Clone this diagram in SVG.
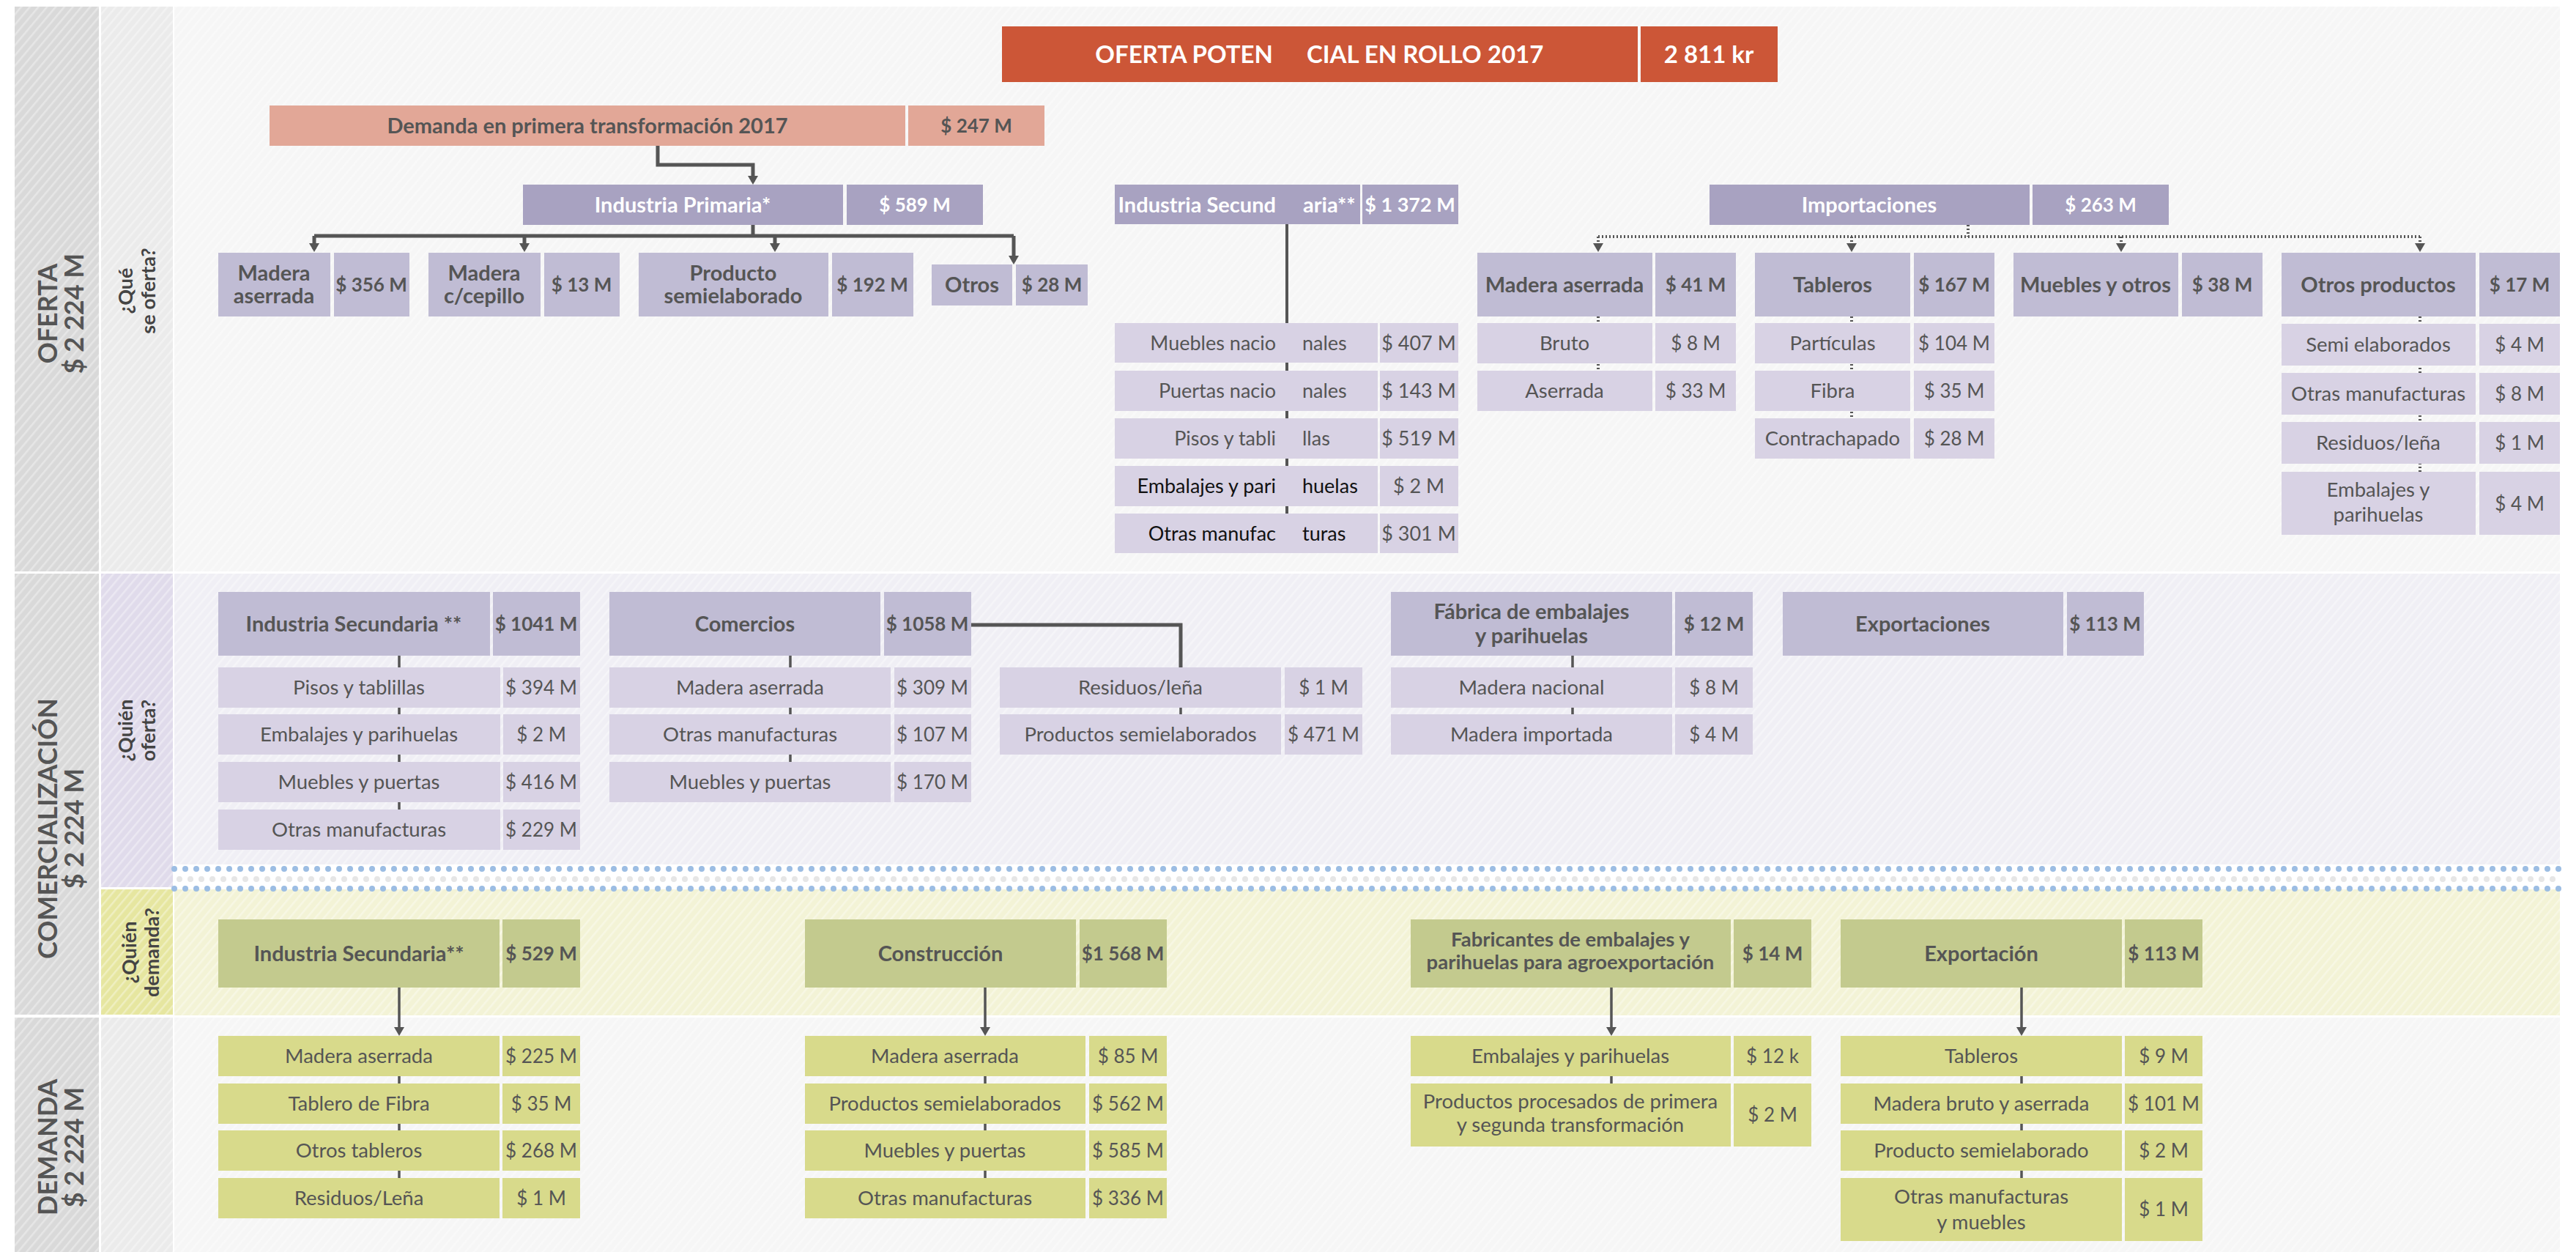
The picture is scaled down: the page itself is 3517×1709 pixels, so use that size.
<svg xmlns="http://www.w3.org/2000/svg" width="3517" height="1709" viewBox="0 0 3517 1709">
<defs>
<pattern id="hatch" width="9" height="9" patternUnits="userSpaceOnUse" patternTransform="rotate(40)"><rect width="2.5" height="9" fill="#fff" opacity="0.35"/></pattern>
<marker id="ah" markerUnits="userSpaceOnUse" markerWidth="16" markerHeight="16" viewBox="0 0 16 16" refX="8" refY="8" orient="auto"><path d="M0,1 L12,8 L0,15 z" fill="#555"/></marker>
</defs>
<style>
text { font-family: Lato, "Noto Sans", "Liberation Sans", sans-serif; }
.tw { fill:#fff; font-weight:700; font-size:29px; text-anchor:middle; }
.tb { fill:#555; font-weight:700; font-size:29px; text-anchor:middle; }
.tr { fill:#555; font-weight:400; font-size:27.5px; text-anchor:middle; }
.vw { fill:#fff; font-weight:700; font-size:26px; text-anchor:middle; }
.vb { fill:#555; font-weight:700; font-size:26px; text-anchor:middle; }
.vr { fill:#555; font-weight:400; font-size:26px; text-anchor:middle; }
.ti { fill:#555; font-weight:400; font-size:27px; }
.tk { fill:#111; font-weight:400; font-size:27px; }
.side { fill:#555; font-weight:700; font-size:36px; text-anchor:middle; }
.q { fill:#444; font-weight:700; font-size:27px; text-anchor:middle; }
.cr { fill:#cc5637; } .cs { fill:#e2a797; } .c1 { fill:#a8a2c1; } .c2 { fill:#c0bcd4; } .c3 { fill:#d8d2e4; }
.cg { fill:#c3ca8e; } .cy { fill:#d8da8b; }
.ln { stroke:#555; stroke-width:5; fill:none; }
.lm { stroke:#555; stroke-width:4; fill:none; }
.lt { stroke:#555; stroke-width:3.5; fill:none; }
.ld { stroke:#555; stroke-width:4; stroke-dasharray:2 3; fill:none; }
.dotb { stroke:#9cbde3; stroke-width:8; stroke-dasharray:0 15; stroke-linecap:round; fill:none; }
.dotg { stroke:#e6e6e6; stroke-width:8; stroke-dasharray:0 15; stroke-linecap:round; fill:none; }
</style>
<rect width="3517" height="1709" fill="#fff"/>
<g id="backgrounds">
<rect x="20" y="9" width="115" height="771" fill="#d9d9d9"/>
<rect x="20" y="783" width="115" height="602" fill="#d9d9d9"/>
<rect x="20" y="1389" width="115" height="320" fill="#d9d9d9"/>
<rect x="138" y="9" width="98" height="771" fill="#ebebeb"/>
<rect x="138" y="783" width="98" height="428" fill="#e0dbeb"/>
<rect x="138" y="1214" width="98" height="171" fill="#e6e6a0"/>
<rect x="138" y="1389" width="98" height="320" fill="#ebebeb"/>
<rect x="238" y="9" width="3257" height="771" fill="#f6f6f6"/>
<rect x="238" y="783" width="3257" height="397" fill="#f0eff5"/>
<rect x="238" y="1214" width="3257" height="172" fill="#f3f3d6"/>
<rect x="238" y="1389" width="3257" height="320" fill="#f6f6f6"/>
<rect x="20" y="9" width="3475" height="1700" fill="url(#hatch)"/>
<path class="dotb" d="M238,1186 H3495"/>
<path class="dotg" d="M245,1200 H3495"/>
<path class="dotb" d="M238,1213 H3495"/>
</g>
<g id="side-labels">
<text class="side" transform="translate(78,428) rotate(-90)"><tspan x="0" y="0">OFERTA</tspan><tspan x="0" y="36">$ 2 224 M</tspan></text>
<text class="side" transform="translate(78,1131) rotate(-90)"><tspan x="0" y="0">COMERCIALIZACIÓN</tspan><tspan x="0" y="36">$ 2 224 M</tspan></text>
<text class="side" transform="translate(78,1566) rotate(-90)"><tspan x="0" y="0">DEMANDA</tspan><tspan x="0" y="36">$ 2 224 M</tspan></text>
<text class="q" transform="translate(181,397) rotate(-90)"><tspan x="0" y="0">¿Qué</tspan><tspan x="0" y="31">se oferta?</tspan></text>
<text class="q" transform="translate(181,997) rotate(-90)"><tspan x="0" y="0">¿Quién</tspan><tspan x="0" y="31">oferta?</tspan></text>
<text class="q" transform="translate(186,1300) rotate(-90)"><tspan x="0" y="0">¿Quién</tspan><tspan x="0" y="31">demanda?</tspan></text>
</g>
<g id="connectors">
<path class="ln" d="M898,199 V225 H1028 V248" marker-end="url(#ah)"/>
<path class="ln" d="M1028,307 V322 M429,322 H1384"/>
<path class="ln" d="M429,322 V340" marker-end="url(#ah)"/>
<path class="ln" d="M716,322 V340" marker-end="url(#ah)"/>
<path class="ln" d="M1058,322 V340" marker-end="url(#ah)"/>
<path class="ln" d="M1384,322 V357" marker-end="url(#ah)"/>
<path class="lm" d="M1757,306 V701"/>
<path class="ld" d="M2687,307 V323 M2182,323 H3304"/>
<path class="ld" d="M2182,323 V340" marker-end="url(#ah)"/>
<path class="ld" d="M2528,323 V340" marker-end="url(#ah)"/>
<path class="ld" d="M2896,323 V340" marker-end="url(#ah)"/>
<path class="ld" d="M3304,323 V340" marker-end="url(#ah)"/>
<path class="ld" d="M2182,432 V506 M2528,432 V571 M3304,432 V644"/>
<path class="lt" d="M545,895 V1105 M1079,895 V1040 M1612,966 V975 M2147,895 V975"/>
<path class="ln" d="M1326,853 H1612 V911"/>
<path class="lt" d="M545,1348 V1410" marker-end="url(#ah)"/>
<path class="lt" d="M1345,1348 V1410" marker-end="url(#ah)"/>
<path class="lt" d="M2200,1348 V1410" marker-end="url(#ah)"/>
<path class="lt" d="M2760,1348 V1410" marker-end="url(#ah)"/>
<path class="lt" d="M545,1469 V1608 M1345,1469 V1608 M2200,1469 V1479 M2760,1469 V1608"/>
</g>
<g id="oferta-potencial">
<rect class="cr" x="1368" y="36" width="868" height="76"/>
<rect class="cr" x="2240" y="36" width="187" height="76"/>
<text class="tw" style="font-size:33px;text-anchor:end" x="1738" y="86">OFERTA POTEN</text>
<text class="tw" style="font-size:33px;text-anchor:start" x="1784" y="86">CIAL EN ROLLO 2017</text>
<text class="tw" style="font-size:33px" x="2333" y="86">2 811 kr</text>
</g>
<g id="demanda-primera">
<rect class="cs" x="368" y="144" width="868" height="55"/>
<rect class="cs" x="1240" y="144" width="186" height="55"/>
<text class="tb" x="802" y="182">Demanda en primera transformación 2017</text>
<text class="vb" x="1333" y="181">$ 247 M</text>
</g>
<g id="industria-primaria">
<rect class="c1" x="714" y="252" width="437" height="55"/>
<rect class="c1" x="1156" y="252" width="186" height="55"/>
<text class="tw" x="932" y="290">Industria Primaria*</text>
<text class="vw" x="1249" y="289">$ 589 M</text>
</g>
<g id="ip-madera-aserrada">
<rect class="c2" x="298" y="345" width="153" height="87"/>
<rect class="c2" x="456" y="345" width="103" height="87"/>
<text class="tb" x="374" y="383">Madera</text><text class="tb" x="374" y="414">aserrada</text>
<text class="vb" x="507" y="398">$ 356 M</text>
</g>
<g id="ip-madera-cepillo">
<rect class="c2" x="585" y="345" width="153" height="87"/>
<rect class="c2" x="743" y="345" width="103" height="87"/>
<text class="tb" x="661" y="383">Madera</text><text class="tb" x="661" y="414">c/cepillo</text>
<text class="vb" x="794" y="398">$ 13 M</text>
</g>
<g id="ip-producto-semielaborado">
<rect class="c2" x="872" y="345" width="259" height="87"/>
<rect class="c2" x="1136" y="345" width="111" height="87"/>
<text class="tb" x="1001" y="383">Producto</text><text class="tb" x="1001" y="414">semielaborado</text>
<text class="vb" x="1191" y="398">$ 192 M</text>
</g>
<g id="ip-otros">
<rect class="c2" x="1272" y="361" width="110" height="56"/>
<rect class="c2" x="1387" y="361" width="98" height="56"/>
<text class="tb" x="1327" y="399">Otros</text>
<text class="vb" x="1436" y="398">$ 28 M</text>
</g>
<g id="industria-secundaria-oferta">
<rect class="c1" x="1522" y="252" width="335" height="54"/>
<rect class="c1" x="1860" y="252" width="131" height="54"/>
<text class="tw" style="text-anchor:end" x="1742" y="290">Industria Secund</text>
<text class="tw" style="text-anchor:start" x="1779" y="290">aria**</text>
<text class="vw" style="font-size:27px" x="1925" y="289">$ 1 372 M</text>
<rect class="c3" x="1522" y="441" width="359" height="54"/><rect class="c3" x="1884" y="441" width="107" height="54"/>
<text class="ti" style="text-anchor:end" x="1742" y="478">Muebles nacio</text><text class="ti" x="1778" y="478">nales</text>
<text class="ti" style="text-anchor:middle" x="1937" y="478">$ 407 M</text>
<rect class="c3" x="1522" y="506" width="359" height="55"/><rect class="c3" x="1884" y="506" width="107" height="55"/>
<text class="ti" style="text-anchor:end" x="1742" y="543">Puertas nacio</text><text class="ti" x="1778" y="543">nales</text>
<text class="ti" style="text-anchor:middle" x="1937" y="543">$ 143 M</text>
<rect class="c3" x="1522" y="571" width="359" height="55"/><rect class="c3" x="1884" y="571" width="107" height="55"/>
<text class="ti" style="text-anchor:end" x="1742" y="608">Pisos y tabli</text><text class="ti" x="1778" y="608">llas</text>
<text class="ti" style="text-anchor:middle" x="1937" y="608">$ 519 M</text>
<rect class="c3" x="1522" y="636" width="359" height="55"/><rect class="c3" x="1884" y="636" width="107" height="55"/>
<text class="tk" style="text-anchor:end" x="1742" y="673">Embalajes y pari</text><text class="tk" x="1778" y="673">huelas</text>
<text class="ti" style="text-anchor:middle" x="1937" y="673">$ 2 M</text>
<rect class="c3" x="1522" y="701" width="359" height="54"/><rect class="c3" x="1884" y="701" width="107" height="54"/>
<text class="tk" style="text-anchor:end" x="1742" y="738">Otras manufac</text><text class="tk" x="1778" y="738">turas</text>
<text class="ti" style="text-anchor:middle" x="1937" y="738">$ 301 M</text>
</g>
<g id="importaciones">
<rect class="c1" x="2334" y="252" width="437" height="55"/>
<rect class="c1" x="2775" y="252" width="186" height="55"/>
<text class="tw" x="2552" y="290">Importaciones</text>
<text class="vw" x="2868" y="289">$ 263 M</text>
</g>
<g id="imp-madera-aserrada">
<rect class="c2" x="2017" y="345" width="239" height="87"/><rect class="c2" x="2260" y="345" width="110" height="87"/>
<text class="tb" x="2136" y="399">Madera aserrada</text><text class="vb" x="2315" y="398">$ 41 M</text>
<rect class="c3" x="2017" y="441" width="239" height="55"/><rect class="c3" x="2260" y="441" width="110" height="55"/>
<text class="tr" x="2136" y="478">Bruto</text><text class="vr" x="2315" y="478">$ 8 M</text>
<rect class="c3" x="2017" y="506" width="239" height="55"/><rect class="c3" x="2260" y="506" width="110" height="55"/>
<text class="tr" x="2136" y="543">Aserrada</text><text class="vr" x="2315" y="543">$ 33 M</text>
</g>
<g id="imp-tableros">
<rect class="c2" x="2396" y="345" width="212" height="87"/><rect class="c2" x="2613" y="345" width="110" height="87"/>
<text class="tb" x="2502" y="399">Tableros</text><text class="vb" x="2668" y="398">$ 167 M</text>
<rect class="c3" x="2396" y="441" width="212" height="55"/><rect class="c3" x="2613" y="441" width="110" height="55"/>
<text class="tr" x="2502" y="478">Partículas</text><text class="vr" x="2668" y="478">$ 104 M</text>
<rect class="c3" x="2396" y="506" width="212" height="55"/><rect class="c3" x="2613" y="506" width="110" height="55"/>
<text class="tr" x="2502" y="543">Fibra</text><text class="vr" x="2668" y="543">$ 35 M</text>
<rect class="c3" x="2396" y="571" width="212" height="55"/><rect class="c3" x="2613" y="571" width="110" height="55"/>
<text class="tr" x="2502" y="608">Contrachapado</text><text class="vr" x="2668" y="608">$ 28 M</text>
</g>
<g id="imp-muebles">
<rect class="c2" x="2749" y="345" width="225" height="87"/><rect class="c2" x="2979" y="345" width="110" height="87"/>
<text class="tb" x="2861" y="399">Muebles y otros</text><text class="vb" x="3034" y="398">$ 38 M</text>
</g>
<g id="imp-otros-productos">
<rect class="c2" x="3115" y="345" width="265" height="87"/><rect class="c2" x="3385" y="345" width="110" height="87"/>
<text class="tb" x="3247" y="399">Otros productos</text><text class="vb" x="3440" y="398">$ 17 M</text>
<rect class="c3" x="3115" y="442" width="265" height="57"/><rect class="c3" x="3385" y="442" width="110" height="57"/>
<text class="tr" x="3247" y="480">Semi elaborados</text><text class="vr" x="3440" y="480">$ 4 M</text>
<rect class="c3" x="3115" y="509" width="265" height="57"/><rect class="c3" x="3385" y="509" width="110" height="57"/>
<text class="tr" x="3247" y="547">Otras manufacturas</text><text class="vr" x="3440" y="547">$ 8 M</text>
<rect class="c3" x="3115" y="576" width="265" height="57"/><rect class="c3" x="3385" y="576" width="110" height="57"/>
<text class="tr" x="3247" y="614">Residuos/leña</text><text class="vr" x="3440" y="614">$ 1 M</text>
<rect class="c3" x="3115" y="644" width="265" height="86"/><rect class="c3" x="3385" y="644" width="110" height="86"/>
<text class="tr" x="3247" y="678">Embalajes y</text><text class="tr" x="3247" y="712">parihuelas</text><text class="vr" x="3440" y="697">$ 4 M</text>
</g>
<g id="com-industria-secundaria">
<rect class="c2" x="298" y="808" width="371" height="87"/><rect class="c2" x="673" y="808" width="119" height="87"/>
<text class="tb" x="483" y="862">Industria Secundaria **</text><text class="vb" x="732" y="861">$ 1041 M</text>
<rect class="c3" x="298" y="911" width="385" height="55"/><rect class="c3" x="687" y="911" width="105" height="55"/>
<text class="tr" x="490" y="948">Pisos y tablillas</text><text class="vr" x="739" y="948">$ 394 M</text>
<rect class="c3" x="298" y="975" width="385" height="55"/><rect class="c3" x="687" y="975" width="105" height="55"/>
<text class="tr" x="490" y="1012">Embalajes y parihuelas</text><text class="vr" x="739" y="1012">$ 2 M</text>
<rect class="c3" x="298" y="1040" width="385" height="55"/><rect class="c3" x="687" y="1040" width="105" height="55"/>
<text class="tr" x="490" y="1077">Muebles y puertas</text><text class="vr" x="739" y="1077">$ 416 M</text>
<rect class="c3" x="298" y="1105" width="385" height="55"/><rect class="c3" x="687" y="1105" width="105" height="55"/>
<text class="tr" x="490" y="1142">Otras manufacturas</text><text class="vr" x="739" y="1142">$ 229 M</text>
</g>
<g id="com-comercios">
<rect class="c2" x="832" y="808" width="370" height="87"/><rect class="c2" x="1207" y="808" width="119" height="87"/>
<text class="tb" x="1017" y="862">Comercios</text><text class="vb" x="1266" y="861">$ 1058 M</text>
<rect class="c3" x="832" y="911" width="384" height="55"/><rect class="c3" x="1221" y="911" width="105" height="55"/>
<text class="tr" x="1024" y="948">Madera aserrada</text><text class="vr" x="1273" y="948">$ 309 M</text>
<rect class="c3" x="832" y="975" width="384" height="55"/><rect class="c3" x="1221" y="975" width="105" height="55"/>
<text class="tr" x="1024" y="1012">Otras manufacturas</text><text class="vr" x="1273" y="1012">$ 107 M</text>
<rect class="c3" x="832" y="1040" width="384" height="55"/><rect class="c3" x="1221" y="1040" width="105" height="55"/>
<text class="tr" x="1024" y="1077">Muebles y puertas</text><text class="vr" x="1273" y="1077">$ 170 M</text>
</g>
<g id="com-residuos">
<rect class="c3" x="1365" y="911" width="384" height="55"/><rect class="c3" x="1754" y="911" width="106" height="55"/>
<text class="tr" x="1557" y="948">Residuos/leña</text><text class="vr" x="1807" y="948">$ 1 M</text>
<rect class="c3" x="1365" y="975" width="384" height="55"/><rect class="c3" x="1754" y="975" width="106" height="55"/>
<text class="tr" x="1557" y="1012">Productos semielaborados</text><text class="vr" x="1807" y="1012">$ 471 M</text>
</g>
<g id="com-fabrica">
<rect class="c2" x="1899" y="808" width="384" height="87"/><rect class="c2" x="2287" y="808" width="106" height="87"/>
<text class="tb" x="2091" y="845">Fábrica de embalajes</text><text class="tb" x="2091" y="878">y parihuelas</text>
<text class="vb" x="2340" y="861">$ 12 M</text>
<rect class="c3" x="1899" y="911" width="384" height="55"/><rect class="c3" x="2287" y="911" width="106" height="55"/>
<text class="tr" x="2091" y="948">Madera nacional</text><text class="vr" x="2340" y="948">$ 8 M</text>
<rect class="c3" x="1899" y="975" width="384" height="55"/><rect class="c3" x="2287" y="975" width="106" height="55"/>
<text class="tr" x="2091" y="1012">Madera importada</text><text class="vr" x="2340" y="1012">$ 4 M</text>
</g>
<g id="com-exportaciones">
<rect class="c2" x="2434" y="808" width="383" height="87"/><rect class="c2" x="2822" y="808" width="105" height="87"/>
<text class="tb" x="2625" y="862">Exportaciones</text><text class="vb" x="2874" y="861">$ 113 M</text>
</g>
<g id="dem-industria-secundaria">
<rect class="cg" x="298" y="1255" width="384" height="93"/><rect class="cg" x="686" y="1255" width="106" height="93"/>
<text class="tb" x="490" y="1312">Industria Secundaria**</text><text class="vb" x="739" y="1311">$ 529 M</text>
<rect class="cy" x="298" y="1414" width="384" height="55"/><rect class="cy" x="686" y="1414" width="106" height="55"/>
<text class="tr" x="490" y="1451">Madera aserrada</text><text class="vr" x="739" y="1451">$ 225 M</text>
<rect class="cy" x="298" y="1479" width="384" height="55"/><rect class="cy" x="686" y="1479" width="106" height="55"/>
<text class="tr" x="490" y="1516">Tablero de Fibra</text><text class="vr" x="739" y="1516">$ 35 M</text>
<rect class="cy" x="298" y="1543" width="384" height="55"/><rect class="cy" x="686" y="1543" width="106" height="55"/>
<text class="tr" x="490" y="1580">Otros tableros</text><text class="vr" x="739" y="1580">$ 268 M</text>
<rect class="cy" x="298" y="1608" width="384" height="55"/><rect class="cy" x="686" y="1608" width="106" height="55"/>
<text class="tr" x="490" y="1645">Residuos/Leña</text><text class="vr" x="739" y="1645">$ 1 M</text>
</g>
<g id="dem-construccion">
<rect class="cg" x="1099" y="1255" width="370" height="93"/><rect class="cg" x="1474" y="1255" width="119" height="93"/>
<text class="tb" x="1284" y="1312">Construcción</text><text class="vb" x="1533" y="1311">$1 568 M</text>
<rect class="cy" x="1099" y="1414" width="383" height="55"/><rect class="cy" x="1487" y="1414" width="106" height="55"/>
<text class="tr" x="1290" y="1451">Madera aserrada</text><text class="vr" x="1540" y="1451">$ 85 M</text>
<rect class="cy" x="1099" y="1479" width="383" height="55"/><rect class="cy" x="1487" y="1479" width="106" height="55"/>
<text class="tr" x="1290" y="1516">Productos semielaborados</text><text class="vr" x="1540" y="1516">$ 562 M</text>
<rect class="cy" x="1099" y="1543" width="383" height="55"/><rect class="cy" x="1487" y="1543" width="106" height="55"/>
<text class="tr" x="1290" y="1580">Muebles y puertas</text><text class="vr" x="1540" y="1580">$ 585 M</text>
<rect class="cy" x="1099" y="1608" width="383" height="55"/><rect class="cy" x="1487" y="1608" width="106" height="55"/>
<text class="tr" x="1290" y="1645">Otras manufacturas</text><text class="vr" x="1540" y="1645">$ 336 M</text>
</g>
<g id="dem-fabricantes">
<rect class="cg" x="1926" y="1255" width="437" height="93"/><rect class="cg" x="2367" y="1255" width="106" height="93"/>
<text class="tb" style="font-size:27.5px" x="2144" y="1292">Fabricantes de embalajes y</text><text class="tb" style="font-size:27.5px" x="2144" y="1323">parihuelas para agroexportación</text>
<text class="vb" x="2420" y="1311">$ 14 M</text>
<rect class="cy" x="1926" y="1414" width="437" height="55"/><rect class="cy" x="2367" y="1414" width="106" height="55"/>
<text class="tr" x="2144" y="1451">Embalajes y parihuelas</text><text class="vr" x="2420" y="1451">$ 12 k</text>
<rect class="cy" x="1926" y="1479" width="437" height="86"/><rect class="cy" x="2367" y="1479" width="106" height="86"/>
<text class="tr" x="2144" y="1513">Productos procesados de primera</text><text class="tr" x="2144" y="1545">y segunda transformación</text>
<text class="vr" x="2420" y="1531">$ 2 M</text>
</g>
<g id="dem-exportacion">
<rect class="cg" x="2513" y="1255" width="384" height="93"/><rect class="cg" x="2901" y="1255" width="106" height="93"/>
<text class="tb" x="2705" y="1312">Exportación</text><text class="vb" x="2954" y="1311">$ 113 M</text>
<rect class="cy" x="2513" y="1414" width="384" height="55"/><rect class="cy" x="2901" y="1414" width="106" height="55"/>
<text class="tr" x="2705" y="1451">Tableros</text><text class="vr" x="2954" y="1451">$ 9 M</text>
<rect class="cy" x="2513" y="1479" width="384" height="55"/><rect class="cy" x="2901" y="1479" width="106" height="55"/>
<text class="tr" x="2705" y="1516">Madera bruto y aserrada</text><text class="vr" x="2954" y="1516">$ 101 M</text>
<rect class="cy" x="2513" y="1543" width="384" height="55"/><rect class="cy" x="2901" y="1543" width="106" height="55"/>
<text class="tr" x="2705" y="1580">Producto semielaborado</text><text class="vr" x="2954" y="1580">$ 2 M</text>
<rect class="cy" x="2513" y="1608" width="384" height="86"/><rect class="cy" x="2901" y="1608" width="106" height="86"/>
<text class="tr" x="2705" y="1643">Otras manufacturas</text><text class="tr" x="2705" y="1678">y muebles</text>
<text class="vr" x="2954" y="1660">$ 1 M</text>
</g>
</svg>
